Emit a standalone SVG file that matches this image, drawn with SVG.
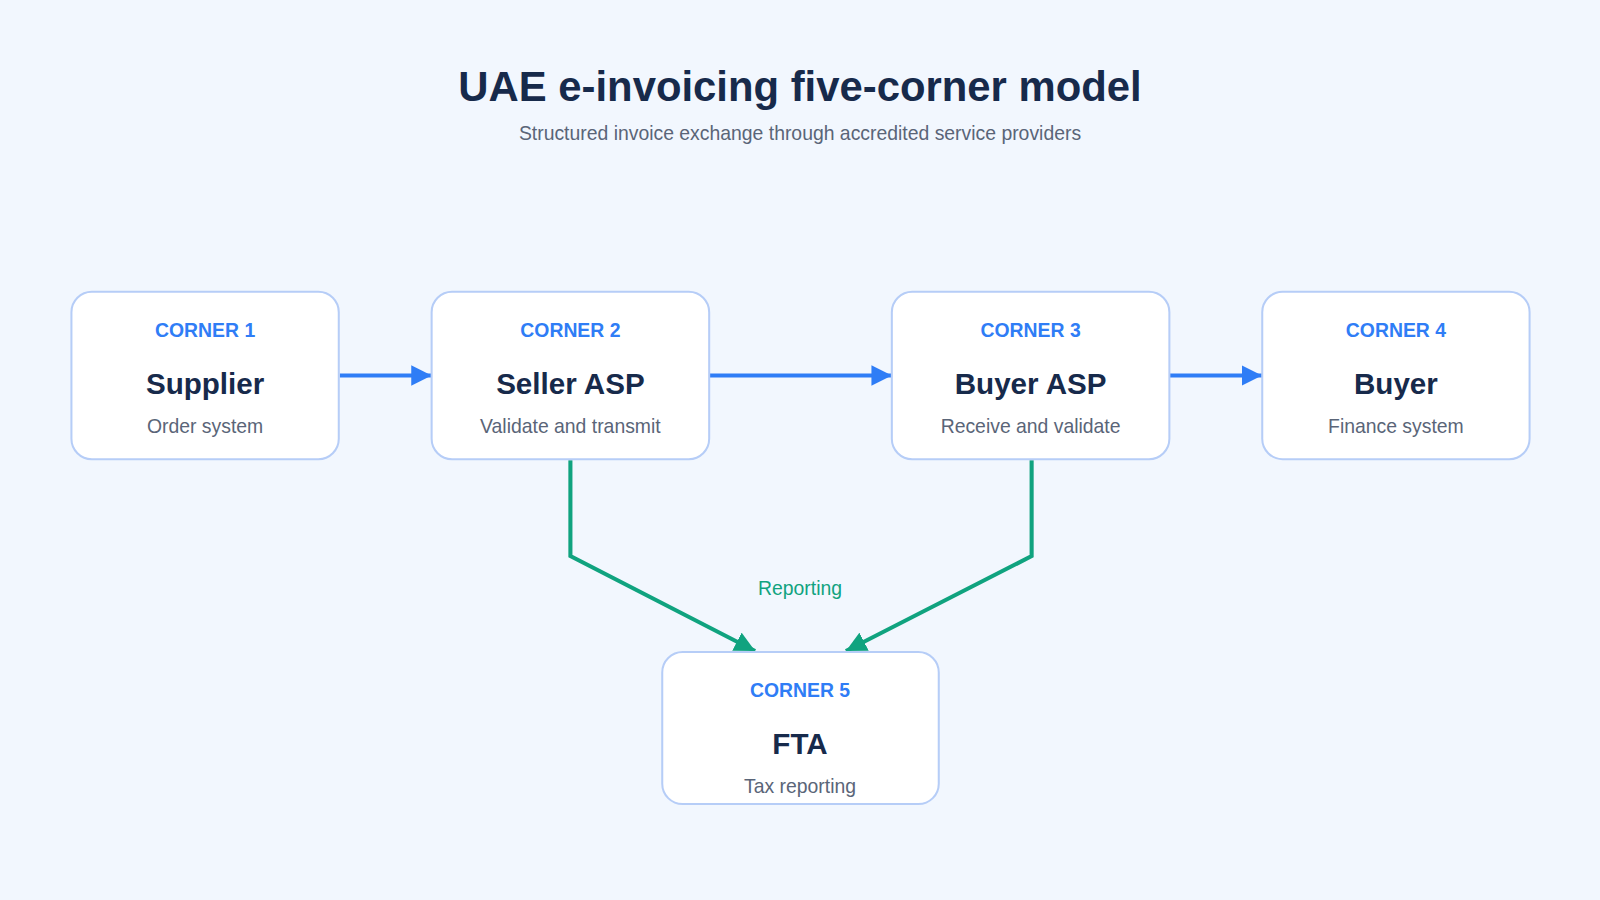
<svg xmlns="http://www.w3.org/2000/svg" width="1600" height="900" viewBox="0 0 1600 900">
<defs>
<style>
text{font-family:"Liberation Sans",Arial,sans-serif;text-anchor:middle}
.box{fill:#fff;stroke:#b6cdf7;stroke-width:2}
.lab{font-size:19px;font-weight:bold;fill:#2f7df6}
.nm{font-size:29px;font-weight:bold;fill:#172a4b}
.sb{font-size:19px;fill:#5a6578}
.b{stroke:#2f7df6;stroke-width:4;fill:none;marker-end:url(#ab)}
.g{stroke:#10a37f;stroke-width:4;fill:none;marker-end:url(#ag)}
</style>
<marker id="ab" viewBox="0 0 10 10" refX="10" refY="5" markerWidth="5" markerHeight="5" orient="auto" markerUnits="strokeWidth"><path d="M0,0L10,5L0,10z" fill="#2f7df6"/></marker>
<marker id="ag" viewBox="0 0 10 10" refX="10" refY="5" markerWidth="5" markerHeight="5" orient="auto" markerUnits="strokeWidth"><path d="M0,0L10,5L0,10z" fill="#10a37f"/></marker>
</defs>
<rect width="1600" height="900" fill="#f2f7fe"/>
<g transform="scale(1.0204)">
<text x="784" y="99" style="font-size:41px;font-weight:bold;fill:#172a4b">UAE e-invoicing five-corner model</text>
<text x="784" y="137" style="font-size:19px;fill:#5a6578">Structured invoice exchange through accredited service providers</text>
<g id="connectors">
<path class="b" d="M333,368H423"/>
<path class="b" d="M695,368H874"/>
<path class="b" d="M1146,368H1237"/>
<path class="g" d="M559,451V545L740,638"/>
<path class="g" d="M1011,451V545L829,638"/>
<text x="784" y="583" style="font-size:19px;fill:#10a37f">Reporting</text>
</g>
<g id="c1"><rect class="box" x="70" y="286" width="262" height="164" rx="20"/><text class="lab" x="201" y="330">CORNER 1</text><text class="nm" x="201" y="386">Supplier</text><text class="sb" x="201" y="424">Order system</text></g>
<g id="c2"><rect class="box" x="423" y="286" width="272" height="164" rx="20"/><text class="lab" x="559" y="330">CORNER 2</text><text class="nm" x="559" y="386">Seller ASP</text><text class="sb" x="559" y="424">Validate and transmit</text></g>
<g id="c3"><rect class="box" x="874" y="286" width="272" height="164" rx="20"/><text class="lab" x="1010" y="330">CORNER 3</text><text class="nm" x="1010" y="386">Buyer ASP</text><text class="sb" x="1010" y="424">Receive and validate</text></g>
<g id="c4"><rect class="box" x="1237" y="286" width="262" height="164" rx="20"/><text class="lab" x="1368" y="330">CORNER 4</text><text class="nm" x="1368" y="386">Buyer</text><text class="sb" x="1368" y="424">Finance system</text></g>
<g id="c5"><rect class="box" x="649" y="639" width="271" height="149" rx="20"/><text class="lab" x="784" y="683">CORNER 5</text><text class="nm" x="784" y="739">FTA</text><text class="sb" x="784" y="777">Tax reporting</text></g>
</g>
</svg>
